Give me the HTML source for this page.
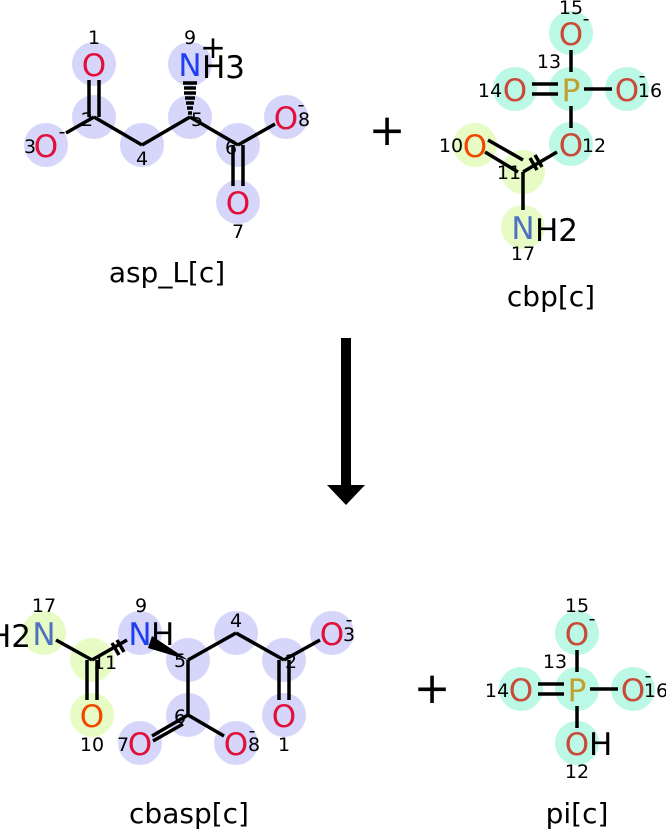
<!DOCTYPE html>
<html><head><meta charset="utf-8"><style>
body{margin:0;background:#fff}
svg{display:block;font-family:"DejaVu Sans","Liberation Sans",sans-serif}
.a{font-size:31px;text-anchor:middle;dominant-baseline:central}
.h{font-size:31px;dominant-baseline:central;fill:#000}
.n{font-size:19px;text-anchor:middle;dominant-baseline:central;fill:#000}
.c{font-size:28px;text-anchor:middle;fill:#000}
.p{font-size:44px;text-anchor:middle;fill:#000}
line{stroke:#000;stroke-width:3.5}
</style></head><body>
<svg width="666" height="830" viewBox="0 0 666 830">
<g fill="#d6d6fa">
<circle cx="94" cy="64" r="22"/><circle cx="94" cy="117" r="22"/><circle cx="46" cy="145" r="22"/><circle cx="142" cy="145" r="22"/><circle cx="190" cy="117" r="22"/><circle cx="190" cy="64" r="22"/><circle cx="238" cy="145" r="22"/><circle cx="286" cy="117" r="22"/><circle cx="238" cy="202" r="22"/>
<circle cx="140" cy="633" r="22"/><circle cx="188" cy="660" r="22"/><circle cx="236" cy="633" r="22"/><circle cx="284" cy="660" r="22"/><circle cx="332" cy="633" r="22"/><circle cx="284" cy="715" r="22"/><circle cx="188" cy="715" r="22"/><circle cx="140" cy="743" r="22"/><circle cx="236" cy="743" r="22"/>
</g>
<g fill="#bcf8e6">
<circle cx="571" cy="33" r="22"/><circle cx="571" cy="89" r="22"/><circle cx="515" cy="89" r="22"/><circle cx="627" cy="89" r="22"/><circle cx="571" cy="144" r="22"/>
<circle cx="577" cy="633" r="22"/><circle cx="577" cy="689" r="22"/><circle cx="521" cy="689" r="22"/><circle cx="633" cy="689" r="22"/><circle cx="577" cy="743" r="22"/>
</g>
<g fill="#e6fcc4">
<circle cx="475" cy="145" r="22"/><circle cx="523" cy="172" r="22"/><circle cx="523" cy="227" r="22"/>
<circle cx="44" cy="633" r="22"/><circle cx="92" cy="660" r="22"/><circle cx="92" cy="715" r="22"/>
</g>
<line x1="89" y1="80" x2="89" y2="117"/><line x1="99" y1="80" x2="99" y2="117"/>
<line x1="94" y1="117" x2="66" y2="133"/>
<line x1="94" y1="117" x2="142" y2="145"/><line x1="142" y1="145" x2="190" y2="117"/>
<line x1="190" y1="117" x2="238" y2="145"/><line x1="238" y1="145" x2="275" y2="124"/>
<line x1="233" y1="145" x2="233" y2="186"/><line x1="243" y1="145" x2="243" y2="186"/>
<g stroke="#000" stroke-width="2.5">
<line x1="183" y1="83" x2="197" y2="83"/><line x1="184" y1="88" x2="196" y2="88"/><line x1="184" y1="93" x2="196" y2="93"/><line x1="185" y1="98" x2="195" y2="98"/><line x1="186" y1="103" x2="194" y2="103"/><line x1="187" y1="108" x2="193" y2="108"/><line x1="188" y1="113" x2="192" y2="113"/>
</g>
<line x1="571" y1="50" x2="571" y2="72"/>
<line x1="532" y1="84" x2="558" y2="84"/><line x1="532" y1="94" x2="558" y2="94"/>
<line x1="584" y1="89" x2="612" y2="89"/>
<line x1="571" y1="106" x2="571" y2="128"/>
<line x1="523" y1="172" x2="557" y2="152"/>
<line x1="488" y1="140" x2="523" y2="160"/><line x1="485" y1="152" x2="518" y2="172"/>
<line x1="523" y1="172" x2="523" y2="210"/>
<line x1="56" y1="640" x2="92" y2="660"/>
<line x1="92" y1="660" x2="127" y2="640"/>
<line x1="87" y1="660" x2="87" y2="700"/><line x1="97" y1="660" x2="97" y2="700"/>
<polygon points="152,636 188,660 148,648" fill="#000"/>
<line x1="188" y1="660" x2="236" y2="633"/><line x1="236" y1="633" x2="284" y2="660"/>
<line x1="284" y1="660" x2="320" y2="640"/>
<line x1="279" y1="660" x2="279" y2="700"/><line x1="289" y1="660" x2="289" y2="700"/>
<line x1="188" y1="660" x2="188" y2="715"/>
<line x1="188" y1="715" x2="152" y2="736"/><line x1="183" y1="724" x2="153" y2="741"/><line x1="188" y1="715" x2="224" y2="736"/>
<line x1="577" y1="650" x2="577" y2="672"/>
<line x1="538" y1="684" x2="564" y2="684"/><line x1="538" y1="694" x2="564" y2="694"/>
<line x1="590" y1="689" x2="618" y2="689"/>
<line x1="577" y1="706" x2="577" y2="728"/>
<g stroke="#000" stroke-width="2.5">
<line x1="530" y1="158" x2="537" y2="170"/><line x1="535" y1="155" x2="542" y2="167"/>
<line x1="112" y1="643" x2="119" y2="655"/><line x1="117" y1="640" x2="124" y2="652"/>
</g>
<text class="a" x="94" y="66" fill="#e0103a">O</text>
<text class="a" x="46" y="147" fill="#e0103a">O</text>
<text class="a" x="286" y="119" fill="#e0103a">O</text>
<text class="a" x="238" y="204" fill="#e0103a">O</text>
<text class="a" x="190" y="66" fill="#2040f0">N</text>
<text class="h" x="202" y="68">H3</text>
<text class="a" x="213" y="48" fill="#000">+</text>
<text class="n" x="94" y="38">1</text><text class="n" x="87" y="120">2</text><text class="n" x="30" y="147">3</text>
<text class="n" x="142" y="159">4</text><text class="n" x="197" y="120">5</text><text class="n" x="231" y="148">6</text>
<text class="n" x="238" y="232">7</text><text class="n" x="304" y="120">8</text><text class="n" x="190" y="38">9</text>
<text class="n" x="62" y="132">-</text><text class="n" x="301" y="105">-</text>
<text class="c" x="167" y="282">asp_L[c]</text>
<text class="p" x="387" y="145">+</text>
<text class="p" x="432" y="703">+</text>
<text class="a" x="571" y="35" fill="#c84a38">O</text>
<text class="a" x="571" y="91" fill="#c0a030">P</text>
<text class="a" x="515" y="91" fill="#c84a38">O</text>
<text class="a" x="627" y="91" fill="#c84a38">O</text>
<text class="a" x="571" y="146" fill="#c84a38">O</text>
<text class="a" x="475" y="147" fill="#f04800">O</text>
<text class="a" x="523" y="229" fill="#5070c0">N</text>
<text class="h" x="535" y="231">H2</text>
<text class="n" x="571" y="8">15</text><text class="n" x="586" y="19">-</text>
<text class="n" x="549" y="62">13</text><text class="n" x="490" y="91">14</text><text class="n" x="650" y="91">16</text><text class="n" x="642" y="76">-</text>
<text class="n" x="594" y="146">12</text><text class="n" x="451" y="146">10</text><text class="n" x="509" y="173">11</text>
<text class="n" x="523" y="254">17</text>
<text class="c" x="551" y="306">cbp[c]</text>
<rect x="341" y="338" width="10" height="148" fill="#000"/>
<polygon points="327,485 365,485 346,505" fill="#000"/>
<text class="a" x="44" y="635" fill="#5070c0">N</text>
<text class="h" x="31" y="637" text-anchor="end">H2</text>
<text class="a" x="92" y="717" fill="#f04800">O</text>
<text class="a" x="140" y="635" fill="#2040f0">N</text>
<text class="h" x="151" y="635">H</text>
<text class="a" x="332" y="635" fill="#e0103a">O</text>
<text class="a" x="284" y="717" fill="#e0103a">O</text>
<text class="a" x="140" y="745" fill="#e0103a">O</text>
<text class="a" x="236" y="745" fill="#e0103a">O</text>
<text class="n" x="44" y="606">17</text><text class="n" x="105" y="663">11</text><text class="n" x="92" y="745">10</text>
<text class="n" x="141" y="606">9</text><text class="n" x="180" y="661">5</text><text class="n" x="236" y="621">4</text>
<text class="n" x="291" y="662">2</text><text class="n" x="349" y="635">3</text><text class="n" x="349" y="620">-</text>
<text class="n" x="284" y="745">1</text><text class="n" x="180" y="717">6</text><text class="n" x="123" y="745">7</text>
<text class="n" x="254" y="745">8</text><text class="n" x="252" y="731">-</text>
<text class="c" x="189" y="823">cbasp[c]</text>
<text class="a" x="577" y="635" fill="#c84a38">O</text>
<text class="a" x="577" y="691" fill="#c0a030">P</text>
<text class="a" x="521" y="691" fill="#c84a38">O</text>
<text class="a" x="633" y="691" fill="#c84a38">O</text>
<text class="a" x="577" y="745" fill="#c84a38">O</text>
<text class="h" x="589" y="745">H</text>
<text class="n" x="577" y="606">15</text><text class="n" x="592" y="619">-</text>
<text class="n" x="555" y="662">13</text><text class="n" x="497" y="691">14</text><text class="n" x="656" y="691">16</text><text class="n" x="648" y="676">-</text>
<text class="n" x="577" y="772">12</text>
<text class="c" x="577" y="823">pi[c]</text>
</svg>
</body></html>
